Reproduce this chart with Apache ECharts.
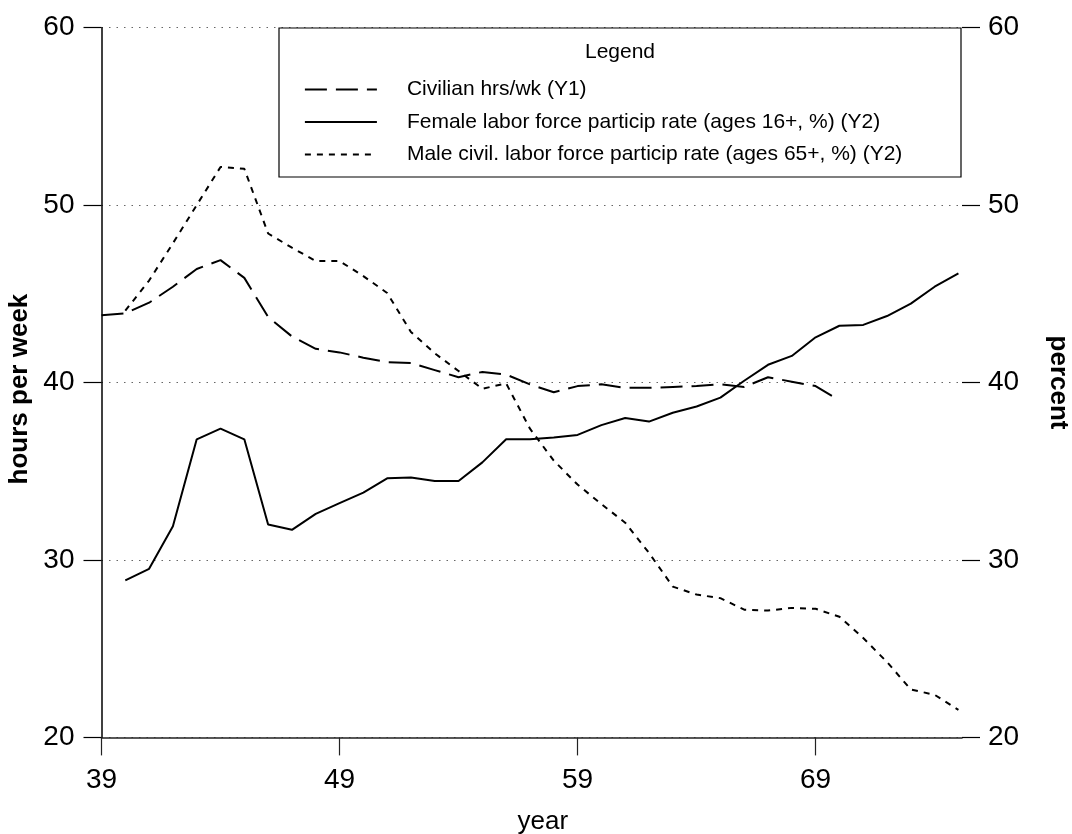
<!DOCTYPE html>
<html><head><meta charset="utf-8">
<script src="https://cdn.jsdelivr.net/npm/echarts@6/dist/echarts.min.js"></script>
<style>html,body{margin:0;padding:0;background:#fff}#c{width:1072px;height:834px}</style>
</head><body><div id="c"></div>
<script>
// Civilian hours per week (left axis, Y1)
const civYears = [39,40,41,42,43,44,45,46,47,48,49,50,51,52,53,54,55,56,57,58,59,60,61,62,63,64,65,66,67,68,69,70];
const civHours = [43.8,43.9,44.5,45.4,46.4,46.9,45.9,43.7,42.6,41.9,41.7,41.4,41.15,41.1,40.7,40.3,40.6,40.45,39.9,39.45,39.8,39.9,39.7,39.7,39.75,39.8,39.9,39.75,40.3,40.05,39.8,39.0];
// Female labor force participation rate, ages 16+ (right axis, Y2)
const femYears = [40,41,42,43,44,45,46,47,48,49,50,51,52,53,54,55,56,57,58,59,60,61,62,63,64,65,66,67,68,69,70,71,72,73,74,75];
const femRate = [28.85,29.5,31.9,36.8,37.4,36.8,32.0,31.7,32.6,33.2,33.8,34.6,34.65,34.45,34.45,35.5,36.8,36.8,36.9,37.05,37.6,38.0,37.8,38.3,38.65,39.15,40.1,41.0,41.5,42.55,43.2,43.25,43.75,44.45,45.4,46.15];
// Male civilian labor force participation rate, ages 65+ (right axis, Y2)
const maleYears = [40,41,42,43,44,45,46,47,48,49,50,51,52,53,54,55,56,57,58,59,60,61,62,63,64,65,66,67,68,69,70,71,72,73,74,75];
const maleRate = [44.05,45.75,47.85,50.0,52.15,52.05,48.4,47.6,46.85,46.85,46.0,45.05,42.85,41.65,40.65,39.65,39.95,37.4,35.6,34.25,33.15,32.1,30.4,28.5,28.05,27.85,27.2,27.15,27.3,27.25,26.8,25.6,24.25,22.7,22.4,21.55];
const xTickValues = [39,49,59,69];
const seriesNames = ['Civilian hrs/wk (Y1)','Female labor force particip rate (ages 16+, %) (Y2)','Male civil. labor force particip rate (ages 65+, %) (Y2)'];

const pairs = (xs, ys) => xs.map((x, i) => [x, ys[i]]);
const FF = '"Liberation Sans", Arial, sans-serif';

const chart = echarts.init(document.getElementById('c'), null, {renderer: 'canvas'});
chart.setOption({
  animation: false,
  backgroundColor: '#fff',
  grid: {left: 101.5, top: 27.7, right: 110, bottom: 96.6, containLabel: false, outerBoundsMode: 'none'},
  xAxis: {
    type: 'value', min: 39, max: 75.15,
    name: 'year', nameLocation: 'middle', nameGap: 71,
    nameTextStyle: {fontFamily: FF, fontSize: 26, color: '#000', padding: [0,0,0,22]},
    axisLine: {show: true, onZero: false, lineStyle: {color: '#222', width: 1.5}},
    axisTick: {show: true, length: 18, customValues: xTickValues, lineStyle: {color: '#222', width: 1.2}},
    axisLabel: {customValues: xTickValues, fontFamily: FF, fontSize: 28, color: '#000', margin: 29},
    splitLine: {show: false}
  },
  yAxis: [{
    type: 'value', min: 20, max: 60, interval: 10, position: 'left',
    name: 'hours per week', nameLocation: 'middle', nameRotate: 90, nameGap: 68,
    nameTextStyle: {fontFamily: FF, fontSize: 26, fontWeight: 'bold', color: '#000', padding: [0,13,0,0]},
    axisLine: {show: true, lineStyle: {color: '#000', width: 1.5}},
    axisTick: {show: true, length: 18, lineStyle: {color: '#000', width: 1.2}},
    axisLabel: {fontFamily: FF, fontSize: 28, color: '#000', margin: 27},
    splitLine: {show: true, lineStyle: {color: '#666', width: 1, type: [1.5, 6]}}
  }, {
    type: 'value', min: 20, max: 60, interval: 10, position: 'right',
    name: 'percent', nameLocation: 'middle', nameRotate: -90, nameGap: 83,
    nameTextStyle: {fontFamily: FF, fontSize: 26, fontWeight: 'bold', color: '#000'},
    axisLine: {show: false},
    axisTick: {show: true, length: 18, lineStyle: {color: '#000', width: 1.2}},
    axisLabel: {fontFamily: FF, fontSize: 28, color: '#000', margin: 26},
    splitLine: {show: false}
  }],
  graphic: [
    {type: 'rect', z: 50, shape: {x: 279, y: 28, width: 682, height: 149},
     style: {fill: '#fff', stroke: '#000', lineWidth: 1.2}},
    {type: 'text', z: 51, style: {x: 620, y: 52, text: 'Legend', textAlign: 'center', textVerticalAlign: 'middle',
     font: '21px "Liberation Sans", Arial, sans-serif', fill: '#000'}}
  ],
  legend: {
    z: 60, left: 304, top: 79, orient: 'vertical', padding: 0,
    itemWidth: 72, itemHeight: 20, itemGap: 11.5,
    data: seriesNames,
    itemStyle: {opacity: 0},
    lineStyle: {width: 1.8},
    textStyle: {fontFamily: FF, fontSize: 21, color: '#000', padding: [4,0,0,25]},
    selectedMode: false
  },
  series: [{
    name: seriesNames[0], type: 'line', yAxisIndex: 0, symbol: 'none', z: 3,
    data: pairs(civYears, civHours),
    lineStyle: {color: '#000', width: 2, type: [22, 9]}, itemStyle: {color: '#000'}
  }, {
    name: seriesNames[1], type: 'line', yAxisIndex: 1, symbol: 'none', z: 3,
    data: pairs(femYears, femRate),
    lineStyle: {color: '#000', width: 2, type: 'solid'}, itemStyle: {color: '#000'}
  }, {
    name: seriesNames[2], type: 'line', yAxisIndex: 1, symbol: 'none', z: 3,
    data: pairs(maleYears, maleRate),
    lineStyle: {color: '#000', width: 2, type: [6, 6]}, itemStyle: {color: '#000'}
  }]
});
</script></body></html>
